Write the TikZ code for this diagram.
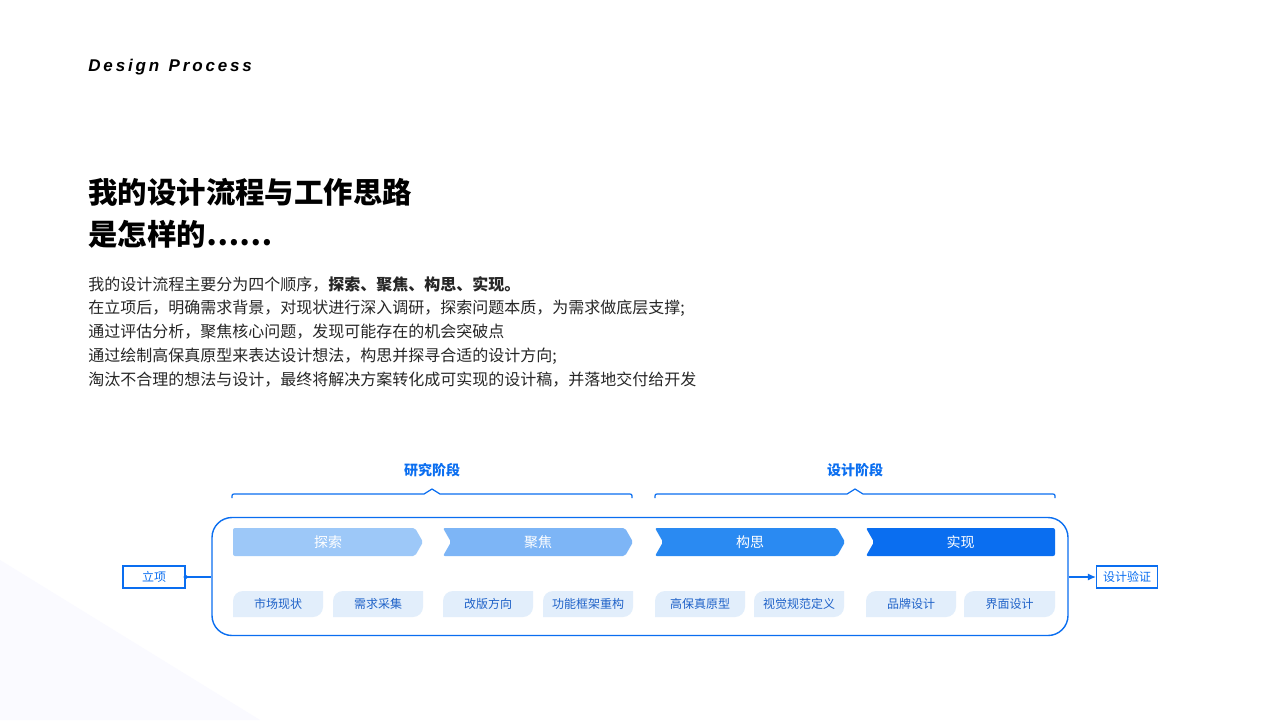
\documentclass[tikz,border=0pt]{standalone}
\usepackage{fontspec}
\setmainfont{Noto Sans CJK SC}
\newfontfamily\latinfont{Liberation Sans}
\usetikzlibrary{arrows.meta}
\definecolor{mainblue}{HTML}{0A6EF0}
\definecolor{chipblue}{HTML}{E2EEFB}
\definecolor{chiptext}{HTML}{1F62C8}
\definecolor{stepa}{HTML}{9DC8F8}
\definecolor{stepb}{HTML}{7DB5F6}
\definecolor{stepc}{HTML}{2A8AF2}
\definecolor{stepd}{HTML}{0A6EF0}
\tikzset{
  bodytext/.style={anchor=west, inner sep=0pt, font=\fontsize{8}{9}\selectfont, text=black!85},
  phasetext/.style={font=\fontsize{7}{8}\selectfont\bfseries, text=mainblue},
  endbox/.style={draw=mainblue, line width=0.6pt, fill=white, inner sep=0pt,
    minimum width=31pt, minimum height=11pt, font=\fontsize{6}{7}\selectfont, text=mainblue},
  steptext/.style={font=\fontsize{7}{8}\selectfont, text=white},
  chiptextstyle/.style={font=\fontsize{6}{7}\selectfont, text=chiptext}
}
% chip: name, x1, x2, label
\newcommand{\chipbox}[4]{%
  \fill[chipblue] (#2,617) -- (#2,601) .. controls (#2,595.5) and (#2+4.5,591) .. (#2+10,591) -- (#3,591)
    -- (#3,607) .. controls (#3,612.5) and (#3-4.5,617) .. (#3-10,617) -- cycle;
  \node[chiptextstyle] (#1) at ({(#2+#3)/2},604) {#4};}
% chevron step: name, x1, x2, colour, notch (0/1), point (0/1), label
\newcommand{\stepshape}[7]{%
  \fill[#4, rounded corners=1pt] (#2,528) -- (#3-8*#6,528) -- (#3,542) -- (#3-8*#6,556) -- (#2,556) -- (#2+8*#5,542) -- cycle;
  \node[steptext] (#1) at ({(#2+#3)/2},542) {#7};}
\begin{document}
\begin{tikzpicture}[x=0.5pt,y=-0.5pt]
  % background
  \fill[white] (0,0) rectangle (1280,720);
  \fill[blue!2] (0,560) -- (260,720) -- (0,720) -- cycle;
  \useasboundingbox (0,0) rectangle (1280,720);

  % heading
  \node[anchor=west, inner sep=0pt] (tag) at (88,67)
    {\latinfont\fontsize{8.5}{9}\selectfont\bfseries\itshape D\,e\,s\,i\,g\,n\ \ P\,r\,o\,c\,e\,s\,s};
  \node[anchor=west, inner sep=0pt] (title1) at (88,192) {\fontsize{14.7}{16}\selectfont\bfseries 我的设计流程与工作思路};
  \node[anchor=west, inner sep=0pt] (title2) at (88,234) {\fontsize{14.7}{16}\selectfont\bfseries 是怎样的……};

  % body text
  \node[bodytext] (line1) at (88,284) {我的设计流程主要分为四个顺序，\textbf{探索、聚焦、构思、实现。}};
  \node[bodytext] (line2) at (88,308) {在立项后，明确需求背景，对现状进行深入调研，探索问题本质，为需求做底层支撑;};
  \node[bodytext] (line3) at (88,332) {通过评估分析，聚焦核心问题，发现可能存在的机会突破点};
  \node[bodytext] (line4) at (88,356) {通过绘制高保真原型来表达设计想法，构思并探寻合适的设计方向;};
  \node[bodytext] (line5) at (88,380) {淘汰不合理的想法与设计，最终将解决方案转化成可实现的设计稿，并落地交付给开发};

  % phases
  \node[phasetext] (research) at (432,470) {研究阶段};
  \node[phasetext] (design) at (855,470) {设计阶段};
  \draw[mainblue, line width=0.6pt] (232,498) .. controls (232,494) .. (236,494) -- (424,494) -- (432,489)
    -- (440,494) -- (628,494) .. controls (632,494) .. (632,498);
  \draw[mainblue, line width=0.6pt] (655,498) .. controls (655,494) .. (659,494) -- (847,494) -- (855,489)
    -- (863,494) -- (1051,494) .. controls (1055,494) .. (1055,498);

  % frame
  \node[draw=mainblue, line width=0.7pt, rounded corners=10pt,
    minimum width=428pt, minimum height=59pt] (frame) at (640,576.5) {};

  \stepshape{explore}{233}{423}{stepa}{0}{1}{探索}
  \stepshape{focus}{443}{633}{stepb}{1}{1}{聚焦}
  \stepshape{ideate}{655}{845}{stepc}{1}{1}{构思}
  \stepshape{build}{866}{1055}{stepd}{1}{0}{实现}

  \chipbox{market}{233}{323}{市场现状}
  \chipbox{needs}{333}{423}{需求采集}
  \chipbox{revamp}{443}{533}{改版方向}
  \chipbox{framework}{543}{633}{功能框架重构}
  \chipbox{proto}{655}{745}{高保真原型}
  \chipbox{visual}{754}{844}{视觉规范定义}
  \chipbox{brand}{866}{956}{品牌设计}
  \chipbox{ui}{964}{1055}{界面设计}

  % start and end
  \node[endbox] (start) at (154,577) {立项};
  \node[endbox, minimum width=30.5pt] (verify) at (1127,577) {设计验证};
  \fill[mainblue] (start.east) circle (1pt);
  \draw[mainblue, line width=0.6pt] (start.east) -- (start.east -| frame.west);
  \draw[mainblue, line width=0.6pt, -{Latex[length=4pt,width=3.5pt]}] (verify.west -| frame.east) -- (verify.west);
\end{tikzpicture}
\end{document}
